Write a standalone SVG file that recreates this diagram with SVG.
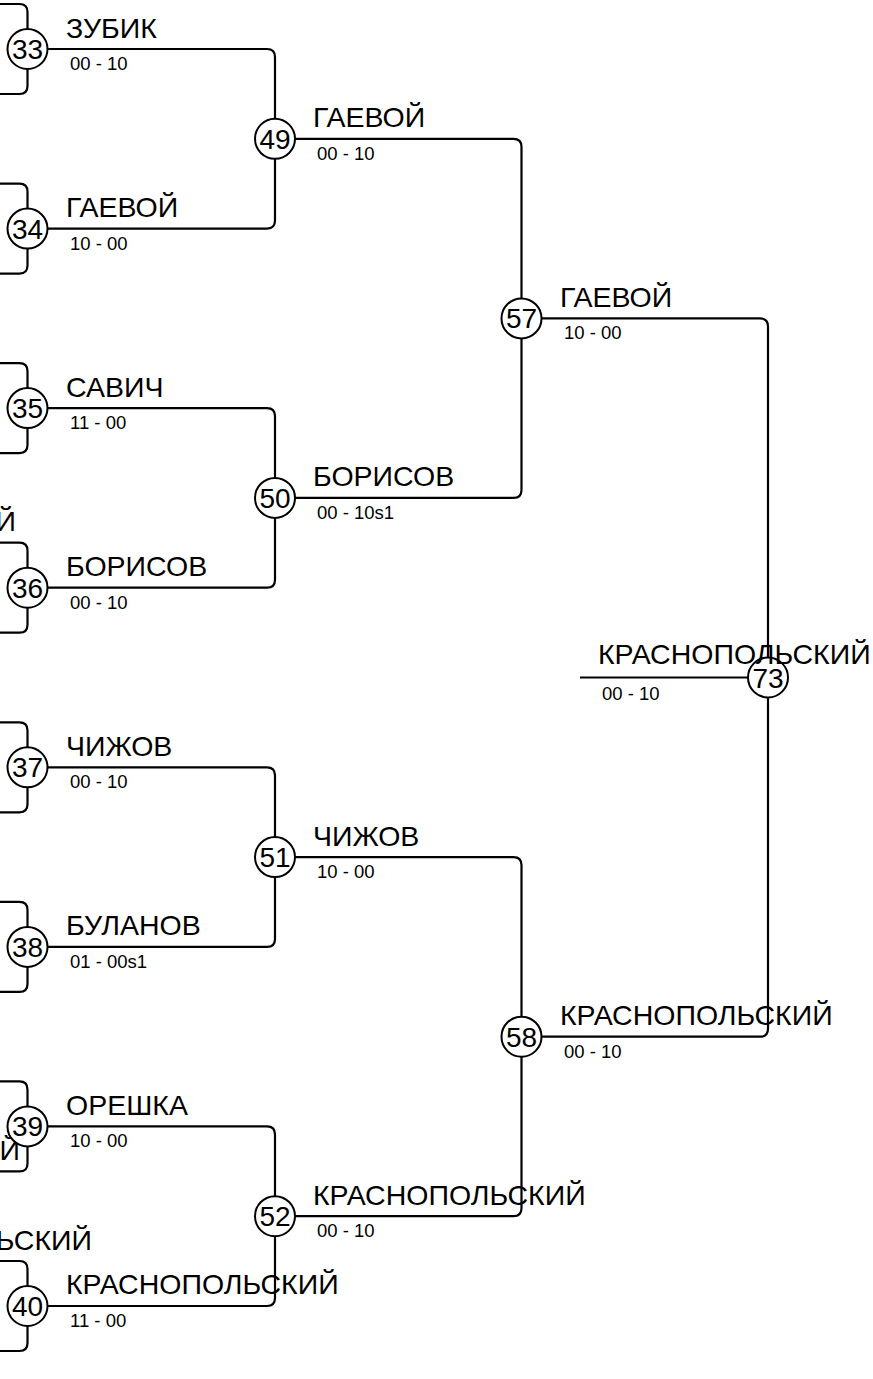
<svg xmlns="http://www.w3.org/2000/svg" width="873" height="1379" viewBox="0 0 873 1379">
<style>
.c{fill:#fff;stroke:#000;stroke-width:2}
.n{font-family:"Liberation Sans",Arial,sans-serif;font-size:28px;text-anchor:middle;fill:#000}
.nm{font-family:"Liberation Sans",Arial,sans-serif;font-size:28.5px;fill:#000}
.sc{font-family:"Liberation Sans",Arial,sans-serif;font-size:18.5px;fill:#000}
.ln{fill:none;stroke:#000;stroke-width:2.2}
</style>
<rect width="873" height="1379" fill="#fff"/>
<g id="connectors" class="ln">
<path d="M-10 4 H19.5 Q27.5 4 27.5 12 V29 M-10 94 H19.5 Q27.5 94 27.5 86 V69"/>
<path d="M-10 183.6 H19.5 Q27.5 183.6 27.5 191.6 V208.6 M-10 273.6 H19.5 Q27.5 273.6 27.5 265.6 V248.6"/>
<path d="M-10 363.1 H19.5 Q27.5 363.1 27.5 371.1 V388.1 M-10 453.1 H19.5 Q27.5 453.1 27.5 445.1 V428.1"/>
<path d="M-10 542.7 H19.5 Q27.5 542.7 27.5 550.7 V567.7 M-10 632.7 H19.5 Q27.5 632.7 27.5 624.7 V607.7"/>
<path d="M-10 722.3 H19.5 Q27.5 722.3 27.5 730.3 V747.3 M-10 812.3 H19.5 Q27.5 812.3 27.5 804.3 V787.3"/>
<path d="M-10 901.9 H19.5 Q27.5 901.9 27.5 909.9 V926.9 M-10 991.9 H19.5 Q27.5 991.9 27.5 983.9 V966.9"/>
<path d="M-10 1081.4 H19.5 Q27.5 1081.4 27.5 1089.4 V1106.4 M-10 1171.4 H19.5 Q27.5 1171.4 27.5 1163.4 V1146.4"/>
<path d="M-10 1261 H19.5 Q27.5 1261 27.5 1269 V1286 M-10 1351 H19.5 Q27.5 1351 27.5 1343 V1326"/>
<path d="M47.5 49 H267 Q275 49 275 57 V118.8"/>
<path d="M47.5 228.6 H267 Q275 228.6 275 220.6 V158.8"/>
<path d="M47.5 408.1 H267 Q275 408.1 275 416.1 V477.9"/>
<path d="M47.5 587.7 H267 Q275 587.7 275 579.7 V517.9"/>
<path d="M47.5 767.3 H267 Q275 767.3 275 775.3 V837.1"/>
<path d="M47.5 946.9 H267 Q275 946.9 275 938.9 V877.1"/>
<path d="M47.5 1126.4 H267 Q275 1126.4 275 1134.4 V1196.2"/>
<path d="M47.5 1306 H267 Q275 1306 275 1298 V1236.2"/>
<path d="M295 138.8 H513.5 Q521.5 138.8 521.5 146.8 V298.4"/>
<path d="M295 497.9 H513.5 Q521.5 497.9 521.5 489.9 V338.4"/>
<path d="M295 857.1 H513.5 Q521.5 857.1 521.5 865.1 V1016.7"/>
<path d="M295 1216.2 H513.5 Q521.5 1216.2 521.5 1208.2 V1056.7"/>
<path d="M541.5 318.4 H760 Q768 318.4 768 326.4 V657.5"/>
<path d="M541.5 1036.7 H760 Q768 1036.7 768 1028.7 V697.5"/>
<path d="M580 677.5 H748"/>
</g>
<g id="prev-labels">
<text class="nm" x="16" y="531" text-anchor="end">Й</text>
<text class="nm" x="20" y="1160" text-anchor="end">Й</text>
<text class="nm" x="92" y="1250" text-anchor="end">ЬСКИЙ</text>
</g>
<g id="n33"><circle class="c" cx="27.5" cy="49" r="20"/><text class="n" x="27.5" y="59">33</text><text class="nm" x="66" y="37.5">ЗУБИК</text><text class="sc" x="70" y="70">00 - 10</text></g>
<g id="n34"><circle class="c" cx="27.5" cy="228.6" r="20"/><text class="n" x="27.5" y="238.6">34</text><text class="nm" x="66" y="217">ГАЕВОЙ</text><text class="sc" x="70" y="249.6">10 - 00</text></g>
<g id="n35"><circle class="c" cx="27.5" cy="408.1" r="20"/><text class="n" x="27.5" y="418.1">35</text><text class="nm" x="66" y="396.5">САВИЧ</text><text class="sc" x="70" y="429.1">11 - 00</text></g>
<g id="n36"><circle class="c" cx="27.5" cy="587.7" r="20"/><text class="n" x="27.5" y="597.7">36</text><text class="nm" x="66" y="576.1">БОРИСОВ</text><text class="sc" x="70" y="608.7">00 - 10</text></g>
<g id="n37"><circle class="c" cx="27.5" cy="767.3" r="20"/><text class="n" x="27.5" y="777.3">37</text><text class="nm" x="66" y="755.7">ЧИЖОВ</text><text class="sc" x="70" y="788.3">00 - 10</text></g>
<g id="n38"><circle class="c" cx="27.5" cy="946.9" r="20"/><text class="n" x="27.5" y="956.9">38</text><text class="nm" x="66" y="935.3">БУЛАНОВ</text><text class="sc" x="70" y="967.9">01 - 00s1</text></g>
<g id="n39"><circle class="c" cx="27.5" cy="1126.4" r="20"/><text class="n" x="27.5" y="1136.4">39</text><text class="nm" x="66" y="1114.8">ОРЕШКА</text><text class="sc" x="70" y="1147.4">10 - 00</text></g>
<g id="n40"><circle class="c" cx="27.5" cy="1306" r="20"/><text class="n" x="27.5" y="1316">40</text><text class="nm" x="66" y="1294.4">КРАСНОПОЛЬСКИЙ</text><text class="sc" x="70" y="1327">11 - 00</text></g>
<g id="n49"><circle class="c" cx="275" cy="138.8" r="20"/><text class="n" x="275" y="148.8">49</text><text class="nm" x="313" y="127.2">ГАЕВОЙ</text><text class="sc" x="317" y="159.8">00 - 10</text></g>
<g id="n50"><circle class="c" cx="275" cy="497.9" r="20"/><text class="n" x="275" y="507.9">50</text><text class="nm" x="313" y="486.3">БОРИСОВ</text><text class="sc" x="317" y="518.9">00 - 10s1</text></g>
<g id="n51"><circle class="c" cx="275" cy="857.1" r="20"/><text class="n" x="275" y="867.1">51</text><text class="nm" x="313" y="845.5">ЧИЖОВ</text><text class="sc" x="317" y="878.1">10 - 00</text></g>
<g id="n52"><circle class="c" cx="275" cy="1216.2" r="20"/><text class="n" x="275" y="1226.2">52</text><text class="nm" x="313" y="1204.6">КРАСНОПОЛЬСКИЙ</text><text class="sc" x="317" y="1237.2">00 - 10</text></g>
<g id="n57"><circle class="c" cx="521.5" cy="318.4" r="20"/><text class="n" x="521.5" y="328.4">57</text><text class="nm" x="560" y="306.8">ГАЕВОЙ</text><text class="sc" x="564" y="339.4">10 - 00</text></g>
<g id="n58"><circle class="c" cx="521.5" cy="1036.7" r="20"/><text class="n" x="521.5" y="1046.7">58</text><text class="nm" x="560" y="1025.1">КРАСНОПОЛЬСКИЙ</text><text class="sc" x="564" y="1057.7">00 - 10</text></g>
<g id="n73"><circle class="c" cx="768" cy="677.5" r="20"/><text class="n" x="768" y="687.5">73</text><text class="nm" x="598" y="663.5">КРАСНОПОЛЬСКИЙ</text><text class="sc" x="602" y="700">00 - 10</text></g>
</svg>
